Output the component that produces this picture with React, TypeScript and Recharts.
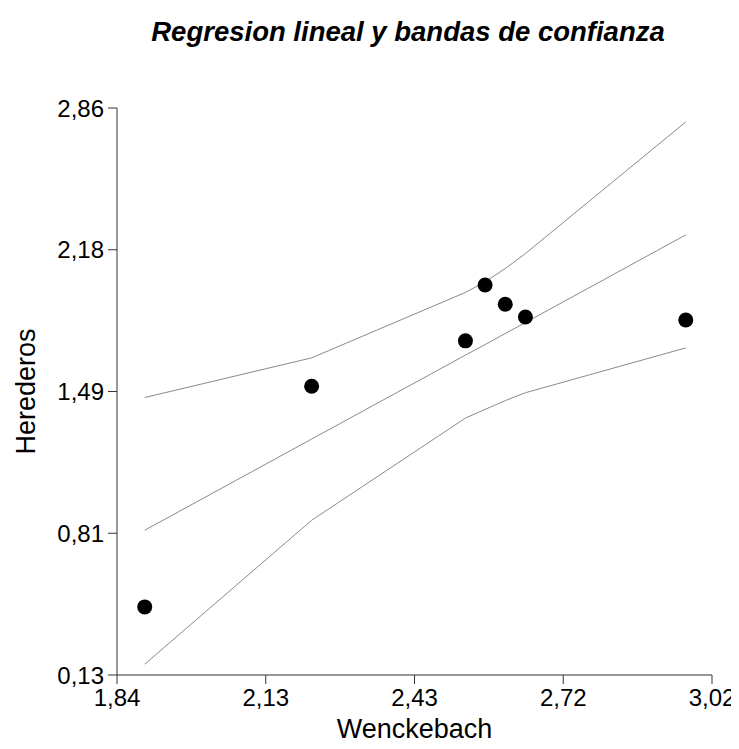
import React from 'react';
import { ScatterChart, Scatter, XAxis, YAxis } from 'recharts';

// observaciones
const X_OBS = [1.895, 2.226, 2.531, 2.57, 2.61, 2.65, 2.968];
const Y_OBS = [0.458, 1.52, 1.739, 2.008, 1.915, 1.854, 1.839];
// recta ajustada y bandas de confianza en cada x observado
const FIT = [0.827, 1.266, 1.67, 1.721, 1.774, 1.827, 2.249];
const UPPER = [1.466, 1.657, 1.972, 2.023, 2.087, 2.159, 2.793];
const LOWER = [0.182, 0.875, 1.367, 1.409, 1.451, 1.489, 1.705];

const X_TICKS = [1.84, 2.135, 2.43, 2.725, 3.02];
const X_TICK_LABELS = ['1,84', '2,13', '2,43', '2,72', '3,02'];
const Y_TICKS = [0.13, 0.8125, 1.495, 2.1775, 2.86];
const Y_TICK_LABELS = ['0,13', '0,81', '1,49', '2,18', '2,86'];

const FONT = '"Liberation Sans", Arial, sans-serif';
const AXIS = '#333';
const BAND = '#8a8a8a';

const toPoints = (ys: number[]) => X_OBS.map((x, i) => ({ x, y: ys[i] }));

const Dot = (props: any) => <circle cx={props.cx} cy={props.cy} r={7.5} fill="#000" />;
const NoDot = () => <g />;

const XTitle = ({ viewBox }: any) => (
  <text x={viewBox.x + viewBox.width / 2} y={viewBox.y + 63} textAnchor="middle" fontSize={27} fontFamily={FONT} fill="#000">
    Wenckebach
  </text>
);

const YTitle = ({ viewBox }: any) => {
  const x = viewBox.x - 1;
  const y = viewBox.y + viewBox.height / 2;
  return (
    <text x={x} y={y} transform={`rotate(-90, ${x}, ${y})`} textAnchor="middle" dominantBaseline="central"
      fontSize={27} fontFamily={FONT} fill="#000">
      Herederos
    </text>
  );
};

export default function App() {
  const tick = { fill: '#000', fontSize: 24, fontFamily: FONT };
  return (
    <div style={{ position: 'relative', width: 731, height: 741, background: '#fff' }}>
      <div style={{
        position: 'absolute', top: 8, left: 100, width: 600, textAlign: 'center',
        fontFamily: FONT, fontWeight: 700, fontStyle: 'italic', fontSize: 27.5, color: '#000',
      }}>
        Regresion lineal y bandas de confianza
      </div>
      <ScatterChart width={731} height={741} margin={{ top: 100, right: 27, left: 19, bottom: 14 }}>
        <XAxis type="number" dataKey="x" domain={[1.84, 3.02]} ticks={X_TICKS} allowDataOverflow
          tickFormatter={(_v: number, i: number) => X_TICK_LABELS[i]} tick={tick} tickSize={9} tickMargin={5}
          stroke={AXIS} height={60} label={<XTitle />} />
        <YAxis type="number" dataKey="y" domain={[0.13, 2.86]} ticks={Y_TICKS} allowDataOverflow
          tickFormatter={(_v: number, i: number) => Y_TICK_LABELS[i]} tick={tick} tickSize={9} tickMargin={4}
          stroke={AXIS} width={90} label={<YTitle />} />
        <Scatter data={toPoints(UPPER)} line={{ stroke: BAND, strokeWidth: 1 }} lineType="joint" shape={NoDot}
          isAnimationActive={false} />
        <Scatter data={toPoints(FIT)} line={{ stroke: BAND, strokeWidth: 1 }} lineType="joint" shape={NoDot}
          isAnimationActive={false} />
        <Scatter data={toPoints(LOWER)} line={{ stroke: BAND, strokeWidth: 1 }} lineType="joint" shape={NoDot}
          isAnimationActive={false} />
        <Scatter data={toPoints(Y_OBS)} shape={Dot} isAnimationActive={false} />
      </ScatterChart>
    </div>
  );
}
